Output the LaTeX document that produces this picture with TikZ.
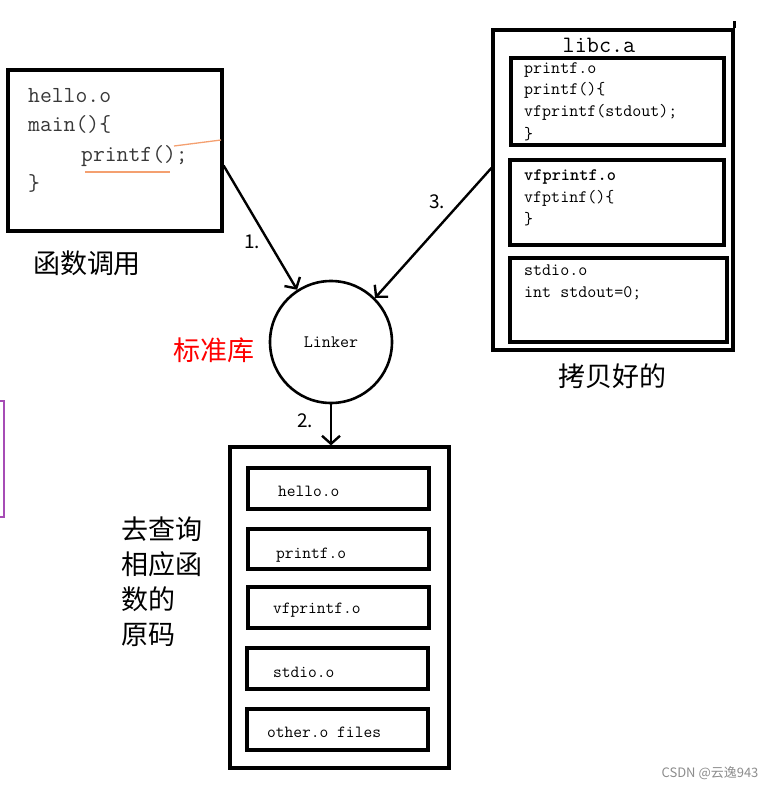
\documentclass[tikz,border=0pt]{standalone}
\usepackage{fontspec}
\newfontfamily\cjk{Noto Sans CJK SC}
\usetikzlibrary{arrows.meta, positioning, calc}
\definecolor{uorange}{HTML}{F4A070}
\definecolor{mpurple}{HTML}{A64CB5}

\begin{document}
\begin{tikzpicture}[
    x=1pt, y=-1pt,
    obox/.style={draw=black, line width=3.2pt, inner sep=0pt},
    code/.style={font=\ttfamily\fontsize{23}{29.5}\selectfont, text=black!78, align=left, inner sep=0pt},
    lcode/.style={font=\ttfamily\fontsize{17.5}{22}\selectfont, align=left, inner sep=0pt},
    otxt/.style={font=\ttfamily\fontsize{17}{20}\selectfont, inner sep=0pt, anchor=west},
    cn/.style={font=\cjk\fontsize{27}{35}\selectfont, inner sep=0pt, align=left},
    num/.style={font=\cjk\fontsize{19}{22}\selectfont, inner sep=0pt},
    fl/.style={-{Straight Barb[length=8pt, width=18pt]}, line width=2.4pt},
    uline/.style={draw=uorange, line width=1.3pt}
  ]
    \useasboundingbox (0,0) rectangle (781,790);
    % ---- hello.o ----
    \node[obox, minimum width=214pt, minimum height=161pt] (hello) at (115,150.5) {};
    \node[code, anchor=north west] (hellotxt) at (28,88)
      {hello.o\\main()\{\\\hspace*{53pt}printf();\\\}};
    \draw[uline] (85,172) -- (170,172);
    \draw[uline] (174,146) -- (221,140);
    \node[cn] (call) at (87,263) {函数调用};
    % ---- Linker ----
    \node[circle, draw, line width=2.6pt, minimum size=122pt, inner sep=0pt,
          font=\ttfamily\fontsize{17.5}{18}\selectfont] (linker) at (331,342) {Linker};
    \node[cn, text=red] (stdlib) at (214,350) {标准库};
    % ---- libc.a ----
    \node[obox, minimum width=240pt, minimum height=320pt] (libc) at (613,190) {};
    \draw[line width=3.2pt] (libc.north east) -- ++(0,-7);
    \node[font=\ttfamily\fontsize{23.5}{24}\selectfont, inner sep=0pt] (libcname) at (599,45) {libc.a};
    \node[obox, minimum width=213pt, minimum height=87pt] (pobj) at (617.5,101.5) {};
    \node[lcode, anchor=north west] (ptxt) at (524,62)
      {printf.o\\printf()\{\\vfprintf(stdout);\\\}};
    \node[obox, minimum width=214pt, minimum height=85pt] (vobj) at (617,202.5) {};
    \node[lcode, anchor=north west] (vtxt) at (524,169)
      {\textbf{vfprintf.o}\\vfptinf()\{\\\}};
    \node[obox, minimum width=217pt, minimum height=84pt] (sobj) at (618.5,300) {};
    \node[lcode, anchor=north west] (stxt) at (524,265) {stdio.o\\int stdout=0;};
    \node[cn] (copied) at (612,376) {拷贝好的};
    % ---- 输出 ----
    \node[obox, minimum width=219pt, minimum height=321pt] (exe) at (339.5,607.5) {};
    \node[obox, minimum width=181pt, minimum height=41pt] (o1) at (338.5,488.5) {};
    \node[otxt] (t1) at (278,491) {hello.o};
    \node[obox, minimum width=181pt, minimum height=40pt] (o2) at (338.5,549) {};
    \node[otxt] (t2) at (276,555) {printf.o};
    \node[obox, minimum width=181pt, minimum height=41pt] (o3) at (338.5,607.5) {};
    \node[otxt] (t3) at (273,610) {vfprintf.o};
    \node[obox, minimum width=181pt, minimum height=41pt] (o4) at (337.5,668.5) {};
    \node[otxt] (t4) at (273,672) {stdio.o};
    \node[obox, minimum width=181pt, minimum height=41pt] (o5) at (337.5,729.5) {};
    \node[otxt] (t5) at (267,732) {other.o files};
    \node[cn, anchor=north west] (lookup) at (121,517) {去查询\\相应函\\数的\\原码};
    % ---- 箭头 ----
    \draw[fl] ([yshift=-15pt]hello.east) -- (linker.123);
    \draw[fl] ([yshift=22pt]libc.west) -- (linker.45);
    \draw[fl] (linker.south) -- (linker.south |- exe.north);
    \node[num] (n1) at (252,242) {1.};
    \node[num] (n2) at (305,421) {2.};
    \node[num] (n3) at (437,202) {3.};
    % ---- 其他 ----
    \draw[draw=mpurple, line width=2pt] (0,401) -- (4,401) -- (4,517) -- (0,517);
    \node[font=\cjk\fontsize{13}{15}\selectfont, text=black!45] (wm) at (710,773) {CSDN @云逸943};
  \end{tikzpicture}
\end{document}
